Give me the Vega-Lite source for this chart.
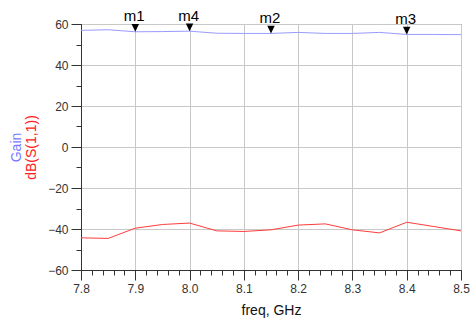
{
  "$schema": "https://vega.github.io/schema/vega-lite/v6.json",
  "width": 380,
  "height": 246,
  "autosize": {"type": "none"},
  "padding": {"left": 81, "top": 24, "right": 11, "bottom": 54},
  "config": {
    "font": "Liberation Sans",
    "view": {"stroke": "#7a7a7a", "strokeWidth": 1},
    "axis": {"labelFont": "Liberation Sans", "titleFont": "Liberation Sans", "labelColor": "#333333", "labelFontSize": 12, "domainColor": "#333333", "tickColor": "#333333", "gridColor": "#c8c8c8", "titleFontWeight": "normal"}
  },
  "datasets": {
    "traces": [
      {"freq": 7.8, "gain": 56.9, "s11": -44.3},
      {"freq": 7.85, "gain": 57.2, "s11": -44.6},
      {"freq": 7.9, "gain": 56.2, "s11": -39.6},
      {"freq": 7.95, "gain": 56.3, "s11": -37.8},
      {"freq": 8.0, "gain": 56.5, "s11": -37.1},
      {"freq": 8.05, "gain": 55.5, "s11": -40.9},
      {"freq": 8.1, "gain": 55.4, "s11": -41.2},
      {"freq": 8.15, "gain": 55.4, "s11": -40.4},
      {"freq": 8.2, "gain": 55.9, "s11": -38.1},
      {"freq": 8.25, "gain": 55.4, "s11": -37.5},
      {"freq": 8.3, "gain": 55.4, "s11": -40.4},
      {"freq": 8.35, "gain": 55.9, "s11": -41.9},
      {"freq": 8.4, "gain": 54.9, "s11": -36.7},
      {"freq": 8.45, "gain": 54.9, "s11": -38.8},
      {"freq": 8.5, "gain": 54.8, "s11": -40.9}
    ],
    "markers": [
      {"name": "m1", "freq": 7.9, "gain": 56.2},
      {"name": "m4", "freq": 8.0, "gain": 56.5},
      {"name": "m2", "freq": 8.15, "gain": 55.4},
      {"name": "m3", "freq": 8.4, "gain": 54.9}
    ]
  },
  "resolve": {"axis": {"x": "independent", "y": "independent"}},
  "layer": [
    {
      "data": {"name": "traces"},
      "mark": {"type": "line", "color": "#ff3c3c", "strokeWidth": 1},
      "encoding": {
        "x": {"field": "freq", "type": "quantitative", "scale": {"domain": [7.8, 8.5], "nice": false, "zero": false},
          "axis": {"orient": "bottom", "values": [7.8, 7.9, 8.0, 8.1, 8.2, 8.3, 8.4, 8.5], "format": ".1f", "tickSize": 10, "labelPadding": 3, "grid": true, "title": "freq, GHz", "titleFontSize": 14, "titleColor": "#111111", "titlePadding": 9, "labelFlush": false}},
        "y": {"field": "s11", "type": "quantitative", "scale": {"domain": [-60, 60], "nice": false, "zero": false},
          "axis": {"orient": "left", "values": [-60, -40, -20, 0, 20, 40, 60], "tickSize": 10, "labelPadding": 3, "grid": true, "title": "dB(S(1,1))", "titleColor": "#ff2020", "titleFontSize": 14, "titleX": -50, "titleY": 123, "titleAngle": -90, "titleAlign": "center", "titleBaseline": "middle"}}
      }
    },
    {
      "data": {"name": "traces"},
      "mark": {"type": "line", "color": "#9a9aff", "strokeWidth": 1},
      "encoding": {
        "x": {"field": "freq", "type": "quantitative",
          "axis": {"orient": "bottom", "values": [7.8, 7.82, 7.84, 7.86, 7.88, 7.9, 7.92, 7.94, 7.96, 7.98, 8.0, 8.02, 8.04, 8.06, 8.08, 8.1, 8.12, 8.14, 8.16, 8.18, 8.2, 8.22, 8.24, 8.26, 8.28, 8.3, 8.32, 8.34, 8.36, 8.38, 8.4, 8.42, 8.44, 8.46, 8.48, 8.5], "tickSize": 5, "labels": false, "domain": false, "grid": false, "title": null}},
        "y": {"field": "gain", "type": "quantitative",
          "axis": {"orient": "left", "values": [-60, -50, -40, -30, -20, -10, 0, 10, 20, 30, 40, 50, 60], "tickSize": 5, "labels": false, "domain": false, "grid": false, "title": "Gain", "titleColor": "#7878ff", "titleFontSize": 14, "titleX": -65, "titleY": 123, "titleAngle": -90, "titleAlign": "center", "titleBaseline": "middle"}}
      }
    },
    {
      "data": {"name": "markers"},
      "mark": {"type": "point", "shape": "M-1,-2.05L1,-2.05L0,0Z", "filled": true, "color": "#000000", "size": 56, "opacity": 1},
      "encoding": {
        "x": {"field": "freq", "type": "quantitative", "axis": null},
        "y": {"field": "gain", "type": "quantitative", "axis": null}
      }
    },
    {
      "data": {"name": "markers"},
      "mark": {"type": "text", "fontSize": 15, "color": "#000000", "baseline": "alphabetic", "align": "center", "dy": -10.5, "dx": -1},
      "encoding": {
        "x": {"field": "freq", "type": "quantitative", "axis": null},
        "y": {"field": "gain", "type": "quantitative", "axis": null},
        "text": {"field": "name"}
      }
    }
  ]
}
